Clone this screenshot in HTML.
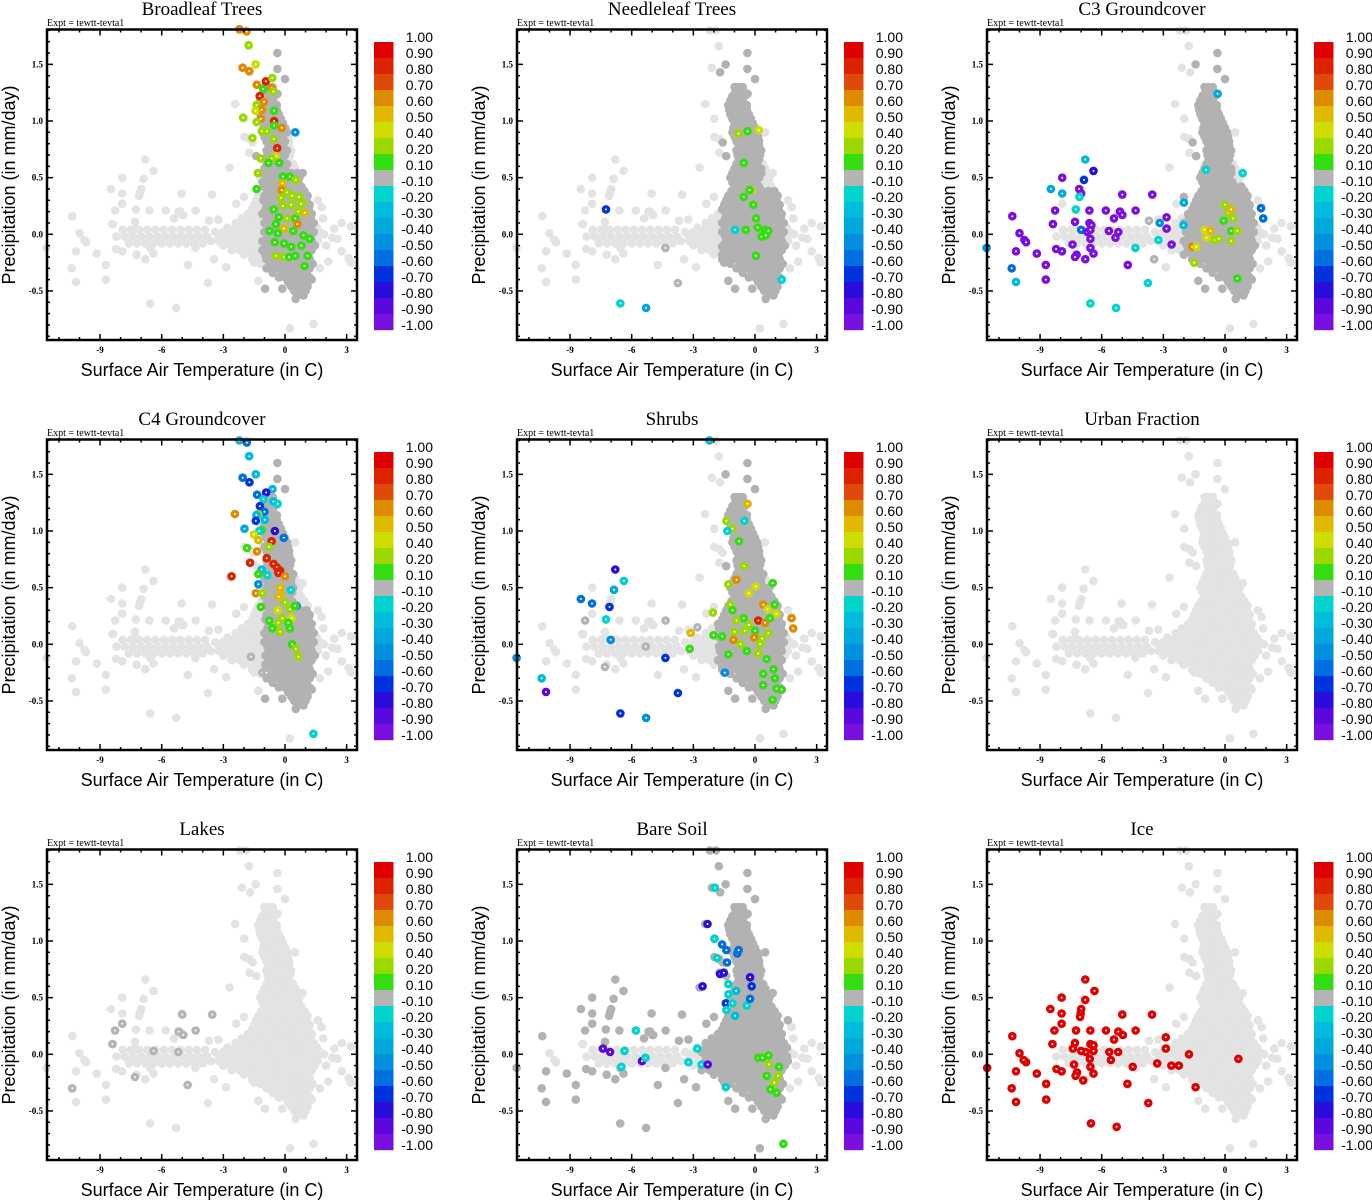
<!DOCTYPE html>
<html><head><meta charset="utf-8">
<style>
html,body{margin:0;padding:0;background:#fff;}
svg{display:block;}
.ttl{font-family:"Liberation Serif",serif;font-size:19px;fill:#000;}
.expt{font-family:"Liberation Serif",serif;font-size:10px;fill:#000;}
.tk{font-family:"Liberation Serif",serif;font-size:9px;font-weight:bold;fill:#000;}
.ax{font-family:"Liberation Sans",sans-serif;font-size:18px;fill:#000;}
.cb{font-family:"Liberation Sans",sans-serif;font-size:14px;fill:#000;}
</style></head>
<body>
<svg id="chart" width="1372" height="1200" viewBox="0 0 1372 1200" xmlns="http://www.w3.org/2000/svg"></svg>
<script>
// ---------- shared point cloud (temperature C, precip mm/day) ----------
const scatterT = [-10.35,-10.0,-9.76,-9.68,-10.17,-10.38,-10.17,-9.16,-8.72,-8.72,-8.47,-8.37,-8.27,-8.22,-7.92,-7.92,-7.92,-7.92,-7.3,-7.3,-7.26,-7.1,-7.05,-7.0,-6.8,-6.88,-6.4,-6.56,-5.3,-6.6,-5.8,-5.1,-5.0,-5.03,-4.35,-3.55,-5.4,-4.73,-3.75,-3.7,-3.24,-2.87,-2.7,-2.43,-1.98,-2.1,-1.7,-1.43,-1.76,-2.2,-1.9,-0.37,-0.37,0,0.49,-0.6,-0.56,-1.98,-1.73,-1.57,-1.73,-1.4,-2.37,-2.0,1.78,1.86,2.76,3.2,2.3,2.55,2.76,2.1,3.1,3.2,0.24,1.38,0.52,-0.97,-0.13,-1.3,-11.6,-6.8,-6.4,-7.22,-6.55,-4.36,-3.45,-2.3,-1.5,-1.6,1.3,0.6,0.86,-0.92,-0.36,1.9,2.0,1.7,1.6,2.4,-8.4,-4.95,-5.18];
const scatterP = [0.16,0.01,-0.05,-0.07,-0.15,-0.30,-0.42,-0.17,-0.27,-0.40,0.40,0.09,0.21,-0.13,0.50,0.36,0.27,-0.15,0.11,0.05,0.22,0.34,0.37,0.40,0.66,0.49,0.56,-0.61,-0.65,0.21,0.21,0.20,0.17,0.36,0.21,0.35,0.14,-0.27,-0.43,0.12,0.13,-0.29,0.59,1.15,1.02,1.47,1.43,1.50,1.66,1.80,1.80,1.60,1.46,1.37,0.90,1.15,1.08,0.86,0.84,0.81,0.72,0.69,0.27,0.33,0.24,0.14,0.10,0.07,-0.03,-0.04,-0.15,-0.24,-0.21,-0.25,-0.83,-0.79,-0.57,-0.48,-0.48,-0.41,-0.12,-0.22,-0.17,-0.18,-0.12,-0.12,-0.22,-0.09,-0.25,-0.11,-0.40,-0.39,0.54,0.57,1.24,0.0,-0.1,-0.3,0.3,0.05,0.09,0.17,0.20];
// dense core rows: precipitation level and the temperatures read along it
const rowP = [1.30,1.22,1.14,1.06,0.98,0.90,0.82,0.74,0.66,0.58,0.50,0.42,0.34,0.26,0.18,0.10,0.02,-0.06,-0.14,-0.22,-0.30,-0.38,-0.46,-0.54,0.04,-0.02,-0.08,
  1.26,1.18,1.10,1.02,0.94,0.86,0.78,0.70,0.62,0.54,0.46,0.38,0.30,0.22,0.14,0.06,-0.02,-0.10,-0.18,-0.26,-0.34,-0.42,-0.50];
const rowT = [
 [-1.0,-0.8,-0.6],
 [-1.1,-0.9,-0.7,-0.5],
 [-1.3,-1.1,-0.9,-0.7,-0.4],
 [-1.2,-1.0,-0.8,-0.5,-0.3],
 [-1.0,-0.8,-0.6,-0.4,-0.1],
 [-1.1,-0.8,-0.6,-0.3,-0.1,0.1],
 [-0.9,-0.7,-0.5,-0.2,0.0,0.2],
 [-0.9,-0.6,-0.4,-0.2,0.1,0.3],
 [-0.8,-0.6,-0.3,-0.1,0.2],
 [-1.0,-0.7,-0.5,-0.2,0.0,0.3,0.5],
 [-1.2,-0.9,-0.6,-0.4,-0.1,0.2,0.4,0.7],
 [-1.0,-0.7,-0.4,-0.1,0.2,0.5,0.8],
 [-1.3,-1.0,-0.7,-0.4,-0.1,0.2,0.5,0.8,1.1],
 [-1.5,-1.2,-0.9,-0.6,-0.3,0.0,0.3,0.6,0.9,1.2],
 [-1.8,-1.4,-1.1,-0.8,-0.5,-0.2,0.1,0.4,0.7,1.0,1.3],
 [-2.4,-2.0,-1.6,-1.3,-1.0,-0.7,-0.4,-0.1,0.2,0.5,0.8,1.1,1.4],
 [-3.4,-3.0,-2.6,-2.2,-1.9,-1.6,-1.3,-1.0,-0.7,-0.4,-0.1,0.2,0.5,0.8,1.1,1.4,1.7],
 [-3.6,-3.2,-2.8,-2.4,-2.0,-1.7,-1.4,-1.1,-0.8,-0.5,-0.2,0.1,0.4,0.7,1.0,1.3,1.6],
 [-2.6,-2.2,-1.8,-1.4,-1.1,-0.8,-0.5,-0.2,0.1,0.4,0.7,1.0,1.3],
 [-1.6,-1.2,-0.9,-0.6,-0.3,0.0,0.3,0.6,0.9,1.2],
 [-0.9,-0.6,-0.3,0.0,0.3,0.6,0.9,1.2],
 [-0.3,0.0,0.3,0.6,0.9,1.2],
 [0.3,0.6,0.9,1.1],
 [0.6,0.9],
 [-7.9,-7.5,-7.1,-6.7,-6.3,-5.9,-5.5,-5.1,-4.7,-4.3,-3.9],
 [-8.2,-7.8,-7.4,-7.0,-6.6,-6.2,-5.8,-5.4,-5.0,-4.6,-4.2,-3.8],
 [-7.6,-7.2,-6.8,-6.4,-6.0,-5.6,-5.2,-4.8,-4.4,-4.0],
 [-0.95,-0.75,-0.55],
 [-1.2,-1.0,-0.8,-0.6],
 [-1.25,-1.05,-0.85,-0.65,-0.4],
 [-1.1,-0.9,-0.7,-0.45,-0.2],
 [-1.05,-0.9,-0.7,-0.5,-0.2,0.0],
 [-1.0,-0.75,-0.55,-0.35,-0.1,0.15],
 [-0.8,-0.6,-0.3,-0.1,0.2],
 [-0.85,-0.5,-0.3,0.0,0.25],
 [-0.9,-0.65,-0.4,-0.15,0.1,0.4],
 [-1.1,-0.8,-0.55,-0.3,0.0,0.3,0.6],
 [-1.1,-0.8,-0.5,-0.25,0.05,0.35,0.65],
 [-1.15,-0.85,-0.55,-0.25,0.05,0.35,0.65,0.95],
 [-1.4,-1.05,-0.75,-0.45,-0.15,0.15,0.45,0.75,1.05],
 [-1.6,-1.25,-0.95,-0.65,-0.35,-0.05,0.25,0.55,0.85,1.15],
 [-2.1,-1.75,-1.45,-1.15,-0.85,-0.55,-0.25,0.05,0.35,0.65,0.95,1.25],
 [-2.8,-2.4,-2.05,-1.75,-1.45,-1.15,-0.85,-0.55,-0.25,0.05,0.35,0.65,0.95,1.25,1.55],
 [-3.2,-2.8,-2.4,-2.05,-1.75,-1.45,-1.15,-0.85,-0.55,-0.25,0.05,0.35,0.65,0.95,1.25,1.55],
 [-3.0,-2.6,-2.2,-1.85,-1.55,-1.25,-0.95,-0.65,-0.35,-0.05,0.25,0.55,0.85,1.15,1.45],
 [-2.0,-1.6,-1.25,-0.95,-0.65,-0.35,-0.05,0.25,0.55,0.85,1.15],
 [-1.2,-0.75,-0.45,-0.15,0.15,0.45,0.75,1.05,1.35],
 [-0.6,-0.15,0.15,0.45,0.75,1.05],
 [0.15,0.45,0.75,1.05],
 [0.45,0.75,1.0]
];
// dark-gray (|change|<0.1) extents per panel: [Plo,Phi,Tlo,Thi]
const grayBT = [[0.55,1.62,-1.5,0.1],[-0.6,0.55,-1.1,1.5]];
const grayNT = [[0.4,1.65,-1.7,0.3],[-0.6,0.4,-1.6,1.5]];
const grayC3 = [[0.45,1.65,-1.6,0.35],[-0.6,0.45,-2.0,1.5]];
const grayC4 = [[0.3,1.6,-1.0,0.4],[-0.6,0.3,-1.0,1.5]];
const graySH = [[0.5,1.6,-1.5,0.4],[-0.6,0.5,-1.8,1.4]];
const grayBS = [[-0.9,1.85,-2.6,1.6],[0.1,1.0,-11.8,-2.6],[-0.9,-0.12,-11.8,-2.6]];
// colored points per panel: [T, P, value]
const ptsBT = [[-2.22,1.81,0.6],[-1.87,1.79,0.6],[-1.77,1.67,0.3],[-1.43,1.50,0.45],[-2.06,1.47,0.6],[-1.74,1.44,0.6],[-1.37,1.32,0.6],[-0.93,1.35,0.8],[-0.62,1.38,0.3],[-1.06,1.28,0.15],[-0.65,1.29,0.6],[-0.57,1.26,0.3],[-1.23,1.22,0.8],[-1.02,1.17,0.6],[-1.38,1.14,0.3],[-1.13,1.10,0.6],[-1.44,1.09,0.45],[-0.53,1.09,0.15],[-2.04,1.03,0.3],[-1.18,1.02,0.6],[-0.53,1.00,0.85],[-1.38,0.99,0.3],[-0.53,0.96,0.15],[-0.16,0.94,0.6],[0.5,0.90,-0.5],[-1.13,0.91,0.3],[-0.88,0.91,0.3],[-1.58,0.85,0.3],[-0.55,0.84,0.3],[-0.38,0.76,0.8],[-0.45,0.69,0.45],[-1.18,0.67,0.3],[-0.65,0.67,0.3],[-0.81,0.63,0.15],[-0.28,0.63,0.15],[-1.32,0.54,0.3],[-0.10,0.51,0.15],[0.23,0.51,0.15],[0.52,0.48,0.3],[-0.12,0.45,0.5],[-1.38,0.40,0.15],[-0.16,0.39,0.6],[-0.2,0.32,0.3],[0.1,0.37,0.3],[0.35,0.34,0.3],[0.68,0.33,0.3],[0.85,0.28,0.3],[-0.55,0.22,0.15],[-0.1,0.25,0.3],[0.3,0.26,0.3],[0.78,0.27,0.3],[0.96,0.19,0.5],[0.1,0.14,0.3],[0.5,0.14,0.15],[-0.45,0.09,0.15],[0.6,0.09,0.6],[-0.05,0.05,0.5],[-0.75,0.03,0.15],[-0.35,0.01,0.15],[0.4,0.03,0.15],[0.9,-0.01,0.15],[1.2,-0.04,0.15],[-0.5,-0.07,0.15],[-0.05,-0.08,0.15],[0.3,-0.11,0.15],[0.8,-0.1,0.15],[0.5,-0.19,0.15],[1.1,-0.19,0.15],[0.95,-0.28,0.15],[-0.45,-0.19,0.3],[-0.05,-0.2,0.3],[0.2,-0.2,0.15],[0.65,0.2,0.3],[-0.3,0.15,0.15]];
const ptsNT = [[-7.25,0.22,-0.7],[-6.55,-0.61,-0.2],[-5.30,-0.65,-0.4],[-4.36,-0.12,0],[-3.75,-0.43,0],[-0.81,0.89,0.3],[-0.36,0.91,0.15],[0.18,0.92,0.45],[-0.55,0.63,0.15],[-0.16,0.39,0.45],[-0.26,0.39,0.15],[-0.55,0.33,0.15],[-0.08,0.26,0.15],[0.05,0.14,0.15],[0.13,0.06,0.15],[0.49,0.04,0.15],[0.65,0.03,0.15],[0.32,-0.02,0.15],[0.52,-0.01,0.15],[-0.45,0.04,0.15],[0.04,-0.19,0.15],[1.30,-0.40,-0.2],[-0.97,0.04,-0.2]];
const ptsC3 = [[-6.8,0.66,-0.3],[-6.4,0.56,-0.8],[-7.92,0.50,-1.0],[-6.86,0.48,-0.7],[-8.47,0.40,-0.4],[-7.92,0.36,-0.4],[-7.1,0.40,-1.0],[-7.0,0.36,-1.0],[-7.08,0.33,-0.2],[-5.0,0.35,-1.0],[-3.54,0.35,-1.0],[-8.27,0.21,-1.0],[-7.26,0.22,-0.2],[-6.6,0.21,-1.0],[-5.8,0.21,-1.0],[-5.11,0.20,-1.0],[-5.0,0.17,-1.0],[-4.35,0.21,-1.0],[-10.35,0.16,-1.0],[-5.4,0.14,-1.0],[-7.3,0.11,-1.0],[-6.6,0.10,-1.0],[-6.5,0.08,-1.0],[-8.37,0.09,-1.0],[-2.84,0.15,-1.0],[-3.18,0.10,-0.5],[-7.0,0.04,-0.6],[-10.0,0.01,-1.0],[-6.7,0.02,-1.0],[-6.55,0.04,-1.0],[-5.65,0.03,-1.0],[-5.19,0.02,-1.0],[-5.33,-0.03,-1.0],[-6.55,-0.04,-1.0],[-2.84,0.05,-1.0],[-3.24,-0.05,-0.2],[-9.76,-0.05,-1.0],[-9.68,-0.07,-1.0],[-7.42,-0.09,-1.0],[-6.55,-0.12,-1.0],[-4.36,-0.12,-0.2],[-2.6,-0.09,-1.0],[-10.17,-0.15,-1.0],[-8.22,-0.13,-1.0],[-7.93,-0.15,-1.0],[-7.22,-0.18,-1.0],[-7.3,-0.20,-1.0],[-6.4,-0.17,-1.0],[-6.8,-0.22,-1.0],[-9.16,-0.17,-1.0],[-8.72,-0.27,-1.0],[-4.73,-0.27,-1.0],[-10.38,-0.30,-0.6],[-8.72,-0.40,-1.0],[-10.17,-0.42,-0.3],[-3.75,-0.43,-0.2],[-6.55,-0.61,-0.2],[-5.3,-0.65,-0.2],[-11.6,-0.12,-0.5],[-3.7,0.12,0],[-3.45,-0.22,0],[-0.36,1.24,-0.4],[-0.92,0.57,-0.2],[0.86,0.54,-0.2],[-2.0,0.28,-0.4],[1.75,0.23,-0.6],[1.86,0.14,-0.6],[-2.02,0.08,-0.3],[-1.6,-0.11,0.6],[-1.39,-0.11,0.45],[-1.5,-0.25,0.3],[-1.0,0.04,0.45],[-0.7,0.03,0.5],[-0.9,-0.03,0.4],[-0.5,-0.05,0.3],[-0.3,-0.04,0.3],[0.0,0.26,0.3],[0.16,0.19,0.3],[0.3,0.22,0.5],[0.4,0.14,0.3],[-0.07,0.12,0.15],[0.3,0.03,0.15],[0.6,0.03,0.3],[0.6,-0.39,0.15],[0.3,-0.06,0.3]];
const ptsC4 = [[-2.22,1.80,-0.3],[-1.86,1.78,-0.6],[-1.74,1.66,-0.3],[-1.42,1.50,-0.3],[-2.06,1.47,-0.6],[-1.73,1.43,-0.7],[-0.61,1.37,-0.3],[-1.36,1.32,-0.6],[-0.92,1.34,-0.8],[-1.05,1.28,-0.2],[-0.56,1.26,-0.3],[-0.36,1.24,-0.2],[-1.22,1.22,-0.7],[-2.44,1.15,0.6],[-1.0,1.17,-0.6],[-1.3,1.15,0.3],[-1.39,1.14,-0.3],[-1.42,1.09,-0.7],[-0.99,1.10,-0.3],[-0.49,1.00,-0.8],[-1.14,1.01,0.15],[-1.97,1.02,-0.4],[-1.25,1.00,-0.2],[-1.52,0.97,0.45],[-0.06,0.94,-0.6],[-1.3,0.92,0.5],[-0.65,0.91,0.8],[-0.78,0.86,0.3],[-1.85,0.85,0.15],[-1.36,0.82,0.6],[-0.89,0.76,0.8],[-0.56,0.71,0.8],[-0.4,0.68,0.8],[-0.24,0.65,0.8],[-1.70,0.72,0.8],[-2.6,0.60,0.8],[-0.32,0.63,0.8],[0.0,0.60,0.6],[-1.14,0.66,-0.3],[-1.3,0.62,0.15],[-0.86,0.61,-0.2],[-1.3,0.53,-0.5],[-1.42,0.45,0.6],[-1.1,0.45,0.3],[-0.24,0.50,0.5],[-0.2,0.44,0.5],[-0.3,0.42,0.5],[0.28,0.48,-0.2],[0.57,0.34,-0.5],[-1.18,0.33,0.15],[0.0,0.37,0.3],[0.24,0.31,0.3],[0.49,0.34,0.15],[-0.36,0.30,0.4],[0.32,0.23,0.4],[-0.13,0.23,0.3],[-0.76,0.21,0.15],[0.16,0.19,0.15],[-0.32,0.19,0.3],[-0.62,0.14,0.15],[-0.24,0.11,0.3],[0.24,0.14,0.15],[0.34,0.0,0.15],[0.52,-0.04,0.3],[0.65,-0.11,0.3],[1.38,-0.79,-0.2],[-1.66,-0.11,0],[-1.1,-0.25,0],[-0.9,-0.25,0]];
const ptsSH = [[-2.22,1.80,-0.3],[-6.8,0.66,-0.8],[-6.38,0.56,-0.2],[-6.86,0.48,-0.4],[-8.47,0.40,-0.6],[-7.93,0.36,-0.6],[-7.08,0.33,-0.7],[-7.25,0.22,-0.2],[-7.02,0.04,-0.5],[-11.6,-0.12,-0.5],[-10.38,-0.30,-0.3],[-10.17,-0.42,-0.9],[-6.55,-0.61,-0.7],[-5.3,-0.65,-0.5],[-4.36,-0.12,-0.7],[-3.75,-0.43,-0.7],[-8.27,0.21,0],[-7.3,-0.2,0],[-5.32,-0.02,0],[-4.35,0.21,0],[-2.81,0.15,0],[-3.13,0.10,0.5],[-3.18,-0.04,0.15],[-2.02,0.08,0.15],[-1.6,0.07,0.15],[-1.47,-0.25,-0.5],[-0.37,1.24,0.5],[-1.39,1.09,0.3],[-1.1,1.02,0.3],[-1.35,1.00,-0.2],[-0.52,1.09,-0.2],[-0.78,0.91,0.15],[-0.52,0.69,0.3],[-0.9,0.57,0.6],[-1.3,0.53,0.3],[0.03,0.51,0.4],[-0.3,0.45,0.45],[0.86,0.54,0.15],[-1.2,0.35,0.3],[-2.05,0.28,0.3],[-1.1,0.30,0.15],[0.96,0.35,0.15],[0.41,0.35,0.6],[0.61,0.31,0.45],[1.04,0.27,0.45],[0.16,0.21,0.8],[1.78,0.23,0.6],[1.86,0.14,0.6],[-0.55,0.23,0.15],[-0.9,0.21,0.3],[0.49,0.19,0.6],[0.73,0.23,0.15],[-1.0,0.11,0.3],[-0.5,0.12,0.3],[-0.05,0.06,0.3],[0.35,0.05,0.3],[0.65,0.1,0.3],[-0.3,0.17,0.3],[0.0,0.12,0.15],[-1.05,0.04,0.6],[-0.04,0.06,0.6],[-1.3,-0.09,0.15],[-0.4,-0.06,0.15],[0.16,-0.08,0.3],[0.57,-0.13,0.15],[0.9,-0.22,0.15],[0.4,-0.26,0.15],[0.4,-0.36,0.15],[0.97,-0.3,0.15],[1.05,-0.39,0.15],[0.85,-0.49,0.15],[1.3,-0.40,0.15],[-0.7,0.0,0.3],[0.25,0.0,0.3]];
const ptsUF = [];
const ptsLK = [[-10.35,-0.30,0],[-8.4,0.09,0],[-8.27,0.21,0],[-7.92,0.27,0],[-7.3,-0.2,0],[-6.4,0.03,0],[-5.19,0.02,0],[-5.18,0.20,0],[-4.95,0.17,0],[-5.0,0.35,0],[-4.35,0.21,0],[-3.54,0.35,0],[-4.74,-0.27,0]];
const ptsBS = [[-1.95,1.47,-0.2],[-2.31,1.15,-0.8],[-1.97,1.02,-0.2],[-1.6,0.97,-0.6],[-1.39,0.92,-0.6],[-1.85,0.85,-0.2],[-1.36,0.81,-0.6],[-0.86,0.89,-0.6],[-0.8,0.92,-0.6],[-1.7,0.71,-0.8],[-1.52,0.72,-0.8],[-2.55,0.60,-0.8],[-1.3,0.62,-0.2],[-1.3,0.53,-0.2],[-0.92,0.56,-0.3],[-0.24,0.68,-0.8],[-0.16,0.60,-0.7],[-1.42,0.45,-0.7],[-1.1,0.45,-0.2],[-0.4,0.43,-0.2],[-0.24,0.49,-0.6],[-1.39,0.39,-0.2],[-0.97,0.34,-0.3],[-5.79,0.21,-0.2],[-7.4,0.05,-0.9],[-7.05,0.02,-0.9],[-6.35,0.03,-0.2],[-6.5,-0.11,-0.2],[-5.5,-0.06,-0.9],[-5.33,-0.03,-0.2],[-2.81,0.05,-0.2],[-3.24,-0.07,-0.2],[-2.6,-0.09,-0.2],[-2.3,-0.09,-0.9],[-1.42,-0.29,-0.2],[0.16,-0.03,0.15],[0.36,-0.03,0.15],[0.65,-0.01,0.15],[0.68,-0.09,0.3],[1.17,-0.11,0.15],[0.57,-0.19,0.15],[1.13,-0.19,0.3],[0.94,-0.25,0.3],[0.75,-0.31,0.15],[1.05,-0.34,0.15],[1.38,-0.79,0.15]];
const ptsIC = [[0.65,-0.04,1],[-1.43,-0.29,1],[-1.75,0.0,1],[-2.61,-0.10,1],[-2.25,-0.10,1],[-2.88,0.15,1],[-2.88,0.05,1],[-3.3,-0.08,1],[-3.55,0.35,1],[-3.73,-0.43,1],[-4.35,0.21,1],[-4.49,-0.11,1],[-4.75,-0.26,1],[-5.0,0.35,1],[-4.97,0.17,1],[-5.19,0.2,1],[-5.4,0.13,1],[-5.2,0.02,1],[-5.63,0.02,1],[-5.55,-0.05,1],[-5.27,-0.64,1],[-5.79,0.21,1],[-6.52,-0.61,1],[-6.35,0.56,1],[-6.8,0.66,1],[-6.8,0.48,1],[-7.0,0.40,1],[-7.02,0.36,1],[-7.05,0.33,1],[-6.55,0.21,1],[-6.55,0.09,1],[-6.4,0.08,1],[-6.4,0.03,1],[-6.58,-0.04,1],[-6.55,-0.11,1],[-6.4,-0.17,1],[-6.78,0.02,1],[-7.0,0.03,1],[-7.25,0.21,1],[-7.3,0.1,1],[-7.4,0.05,1],[-7.35,-0.09,1],[-7.2,-0.16,1],[-7.27,-0.19,1],[-6.9,-0.23,1],[-7.95,0.50,1],[-7.95,0.36,1],[-7.95,0.27,1],[-8.3,0.21,1],[-8.5,0.40,1],[-8.4,0.09,1],[-8.2,-0.13,1],[-7.95,-0.15,1],[-8.7,-0.26,1],[-8.7,-0.40,1],[-9.16,-0.17,1],[-9.68,-0.07,1],[-9.8,-0.05,1],[-10.0,0.01,1],[-10.17,-0.15,1],[-10.35,0.16,1],[-10.38,-0.30,1],[-10.17,-0.42,1],[-11.57,-0.12,1]];
// panel titles
const titles = ["Broadleaf Trees","Needleleaf Trees","C3 Groundcover","C4 Groundcover","Shrubs","Urban Fraction","Lakes","Bare Soil","Ice"];
// axis ticks and colorbar
const xTicks = [-9,-6,-3,0,3];
const yTicks = [-0.5,0.0,0.5,1.0,1.5];
const yTickLabels = ["-0.5","0.0","0.5","1.0","1.5"];
const cbLabels = ["1.00","0.90","0.80","0.70","0.60","0.50","0.40","0.20","0.10","-0.10","-0.20","-0.30","-0.40","-0.50","-0.60","-0.70","-0.80","-0.90","-1.00"];
const cbBounds = [1.0,0.9,0.8,0.7,0.6,0.5,0.4,0.2,0.1,-0.1,-0.2,-0.3,-0.4,-0.5,-0.6,-0.7,-0.8,-0.9,-1.0];
const cbColors = ["#e00000","#dd2200","#e04a08","#dd8c00","#dfb800","#cfdc00","#9ad800","#33dd11","#b4b4b4","#00d4cc","#00bcdc","#00a8dc","#0090dd","#0070e0","#0033dd","#2a0cdd","#5a08dd","#7a10e0"];

const panelPts = [ptsBT,ptsNT,ptsC3,ptsC4,ptsSH,ptsUF,ptsLK,ptsBS,ptsIC];
const panelGray = [grayBT,grayNT,grayC3,grayC4,graySH,[],[],grayBS,[]];
const panelKeys = ["broadleaf-trees","needleleaf-trees","c3-groundcover","c4-groundcover","shrubs","urban-fraction","lakes","bare-soil","ice"];

const NS = "http://www.w3.org/2000/svg";
const svg = document.getElementById("chart");
const LIGHT = "#e3e3e3", DARK = "#b2b2b2";
function mk(tag, attrs, parent){ const e=document.createElementNS(NS,tag); for(const k in attrs) e.setAttribute(k,attrs[k]); parent.appendChild(e); return e; }
function colorOf(v){ for(let i=0;i<18;i++){ if(v>=cbBounds[i+1]) return cbColors[i]; } return cbColors[17]; }
function inGray(rects,t,p){ for(const r of rects){ if(p>=r[0]&&p<=r[1]&&t>=r[2]&&t<=r[3]) return true; } return false; }

function allMaster(){
  const out=[];
  for(let i=0;i<scatterT.length;i++) out.push([scatterT[i],scatterP[i]]);
  for(let r=0;r<rowP.length;r++) for(const t of rowT[r]) out.push([t,rowP[r]]);
  return out;
}
const master = allMaster();

function dot(parent, x, y, col, name, centre){
  const c = mk("circle",{cx:x.toFixed(1),cy:y.toFixed(1),r:4.3,fill:col},parent);
  
  
  if(centre) mk("circle",{cx:x.toFixed(1),cy:y.toFixed(1),r:1.0,fill:"#fff"},parent);
}

for(let k=0;k<9;k++){
  const ox = (k%3)*470, oy = Math.floor(k/3)*410;
  const sx = t => ox+285+t*20.55;
  const sy = p => oy+234.3-p*113.3;
  const g = mk("g",{},svg);
  
  

  const title = mk("text",{x:ox+202,y:oy+15,"text-anchor":"middle",class:"ttl"},g);
  title.textContent = titles[k];
  
  
  const ex = mk("text",{x:ox+47,y:oy+26,class:"expt"},g);
  ex.textContent = "Expt = tewtt-tevta1";
  
  

  // points
  const pg = mk("g",{},g);
  
  
  const grays = panelGray[k];
  for(const m of master){
    if(inGray(grays,m[0],m[1])) continue;
    dot(pg, sx(m[0]), sy(m[1]), LIGHT, 'point-absent', false);
  }
  for(const m of master){
    if(!inGray(grays,m[0],m[1])) continue;
    dot(pg, sx(m[0]), sy(m[1]), DARK, 'point-small-change', false);
  }
  for(const q of panelPts[k]){
    dot(pg, sx(q[0]), sy(q[1]), colorOf(q[2]), 'point-colored', true);
  }

  // frame and ticks
  const fr = mk("rect",{x:ox+47,y:oy+29.5,width:310,height:310.5,fill:"none",stroke:"#000","stroke-width":2.5},g);
  
  
  const tg = mk("g",{stroke:"#000","stroke-width":1.5},g);
  
  
  for(let t=-11;t<=3;t++){
    const L = (t%3===0)?6:3, x=sx(t);
    mk("line",{x1:x,x2:x,y1:oy+340,y2:oy+340-L},tg);
    mk("line",{x1:x,x2:x,y1:oy+29.5,y2:oy+29.5+L},tg);
  }
  for(let i=-9;i<=18;i++){
    const p=i/10, L=(i%5===0)?6:3, y=sy(p);
    mk("line",{x1:ox+47,x2:ox+47+L,y1:y,y2:y},tg);
    mk("line",{x1:ox+357,x2:ox+357-L,y1:y,y2:y},tg);
  }
  for(const t of xTicks){
    const e = mk("text",{x:sx(t),y:oy+353,"text-anchor":"middle",class:"tk"},g);
    e.textContent = String(t);
    
    
  }
  for(let i=0;i<yTicks.length;i++){
    const e = mk("text",{x:ox+43,y:sy(yTicks[i])+3,"text-anchor":"end",class:"tk"},g);
    e.textContent = yTickLabels[i];
    
    
  }
  const xt = mk("text",{x:ox+202,y:oy+376,"text-anchor":"middle",class:"ax"},g);
  xt.textContent = "Surface Air Temperature (in C)";
  
  
  const yt = mk("text",{x:0,y:0,"text-anchor":"middle",class:"ax",transform:`translate(${ox+15},${oy+185}) rotate(-90)`},g);
  yt.textContent = "Precipitation (in mm/day)";
  
  

  // colorbar
  const cg = mk("g",{},g);
  
  
  for(let i=0;i<18;i++){
    const r = mk("rect",{x:ox+374,y:oy+42+i*16,width:19.5,height:16.2,fill:cbColors[i]},cg);
    
    
  }
  for(let i=0;i<cbLabels.length;i++){
    const e = mk("text",{x:ox+433,y:oy+42+i*16,"text-anchor":"end",class:"cb"},cg);
    e.textContent = cbLabels[i];
    
    
  }
}
</script>
</body></html>
